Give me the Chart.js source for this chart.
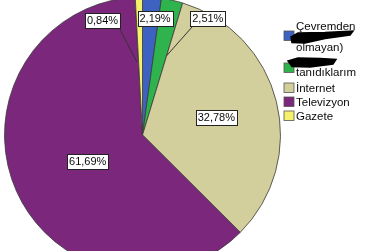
<!DOCTYPE html>
<html>
<head>
<meta charset="utf-8">
<script src="https://cdn.jsdelivr.net/npm/chart.js@4"></script>
<style>
  html, body { margin: 0; padding: 0; background: #fff; overflow: hidden; }
  #wrap { position: absolute; left: 0; top: 0; width: 375px; height: 251px; }
</style>
</head>
<body>
<div id="wrap"><canvas id="pie-chart"></canvas></div>
<script>
// categories (the hidden words are blacked out in the original)
let categories = ['Çevremden (… olmayan)', '… tanıdıklarım', 'İnternet', 'Televizyon', 'Gazete'];
// legend lines, null = scribbled-out line
let legendLines = [['Çevremden', null, 'olmayan)'], [null, 'tanıdıklarım'], ['İnternet'], ['Televizyon'], ['Gazete']];
let percents = [2.19, 2.51, 32.78, 61.69, 0.84];
let pctLabels = ['2,19%', '2,51%', '32,78%', '61,69%', '0,84%'];
let colors = ['#3e62c2', '#2fb34c', '#d3cf9c', '#7b287c', '#f6f16c'];

// where each percent box sits, relative to its slice (angle offset in deg, radius factor)
let labelPlace = [
    { da: 2.2, r: 0.85 },
    { da: 16.8, r: 0.97, leadA: 4.5, leadR: 0.6 },
    { da: 0.7, r: 0.55 },
    { da: -1.5, r: 0.44 },
    { da: -17.7, r: 0.88, leadA: -2.8, leadR: 0.53 }
];

const FONT = '11px "Liberation Sans", Arial, sans-serif';
const LEGEND_FONT = '11.5px "Liberation Sans", Arial, sans-serif';

function polar(arc, ang, f){
    return { x: arc.x + Math.cos(ang) * arc.outerRadius * f, y: arc.y + Math.sin(ang) * arc.outerRadius * f };
}

const labelPlugin = {
    id: 'pctLabels',
    afterDatasetsDraw(chart){
        const ctx = chart.ctx;
        const meta = chart.getDatasetMeta(0);
        ctx.save();
        ctx.font = FONT;
        meta.data.forEach((arc, i) => {
            const p = labelPlace[i];
            const mid = (arc.startAngle + arc.endAngle) / 2;
            const c = polar(arc, mid + p.da * Math.PI / 180, p.r);
            const tw = ctx.measureText(pctLabels[i]).width;
            const w = Math.round(tw + 4), h = 15;
            const bx = Math.round(c.x - w / 2) + 0.5, by = Math.round(c.y - h / 2) + 0.5;
            if (p.leadR){
                const e = polar(arc, mid + p.leadA * Math.PI / 180, p.leadR);
                const sx = e.x < c.x ? bx + 2 : bx + w - 1;
                ctx.strokeStyle = '#333';
                ctx.lineWidth = 1;
                ctx.beginPath();
                ctx.moveTo(sx, by + h);
                ctx.lineTo(e.x, e.y);
                ctx.stroke();
            }
            ctx.fillStyle = '#fff';
            ctx.fillRect(bx, by, w, h);
            ctx.strokeStyle = '#222';
            ctx.lineWidth = 1;
            ctx.strokeRect(bx, by, w, h);
            ctx.fillStyle = '#0a0a0a';
            ctx.textAlign = 'center';
            ctx.textBaseline = 'middle';
            ctx.fillText(pctLabels[i], c.x, c.y + 0.5);
        });
        ctx.restore();
    }
};

function scribble(ctx, pts){
    ctx.beginPath();
    ctx.moveTo(pts[0][0], pts[0][1]);
    pts.slice(1).forEach(pt => ctx.lineTo(pt[0], pt[1]));
    ctx.closePath();
    ctx.fill();
    ctx.lineWidth = 1.5;
    ctx.stroke();
}

const legendPlugin = {
    id: 'sideLegend',
    afterDraw(chart){
        const ctx = chart.ctx;
        ctx.save();
        ctx.font = LEGEND_FONT;
        ctx.textAlign = 'left';
        ctx.textBaseline = 'alphabetic';
        // swatch tops and text baselines per item
        let boxTop = [31, 63, 83, 97, 111];
        let baselines = [[30, 38, 50.5], [63, 76], [91.5], [106], [120]];
        legendLines.forEach((lines, i) => {
            ctx.fillStyle = colors[i];
            ctx.fillRect(284, boxTop[i], 10, 9.5);
            ctx.strokeStyle = '#555';
            ctx.lineWidth = 0.8;
            ctx.strokeRect(284, boxTop[i], 10, 9.5);
            lines.forEach((t, j) => {
                if (t !== null){
                    ctx.fillStyle = '#0a0a0a';
                    ctx.fillText(t, 296, baselines[i][j]);
                }
            });
        });
        ctx.fillStyle = '#000';
        ctx.strokeStyle = '#000';
        scribble(ctx, [[291, 37], [298, 33], [325, 32.5], [353, 31], [350, 35], [325, 38.5], [305, 43], [292, 42.5]]);
        scribble(ctx, [[288, 61], [298, 58], [320, 58.5], [336, 59.5], [333, 64], [310, 67], [292, 66.5]]);
        ctx.restore();
    }
};

const data = {
    labels: categories,
    datasets: [{
        data: percents,
        backgroundColor: colors,
        borderColor: '#3a3a3a',
        borderWidth: 0.8,
        clip: false
    }]
};

let config = {
    type: 'pie',
    data: data,
    options: {
        responsive: true,
        maintainAspectRatio: false,
        animation: false,
        radius: 138,
        layout: { padding: { left: 4.5, right: 94.5, top: 19, bottom: 0 } },
        plugins: { legend: { display: false }, tooltip: { enabled: false } }
    },
    plugins: [labelPlugin, legendPlugin]
};

new Chart(document.getElementById('pie-chart'), config);
</script>
</body>
</html>
